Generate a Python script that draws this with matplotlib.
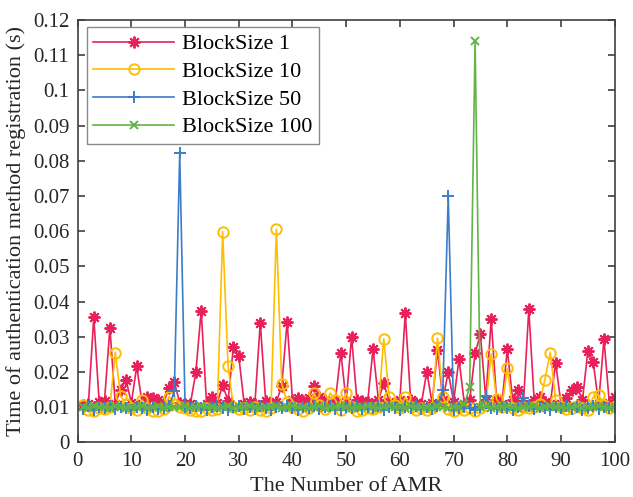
import numpy as np
import matplotlib
matplotlib.use('Agg')
import matplotlib.pyplot as plt
from matplotlib.ticker import MultipleLocator

# --- Registration times per AMR (seconds) ---
amr_ids = list(range(1, 101))

block_1 = [
    0.0105, 0.0110, 0.0355, 0.0115, 0.0118, 0.0325, 0.0110, 0.0149, 0.0178, 0.0112,
    0.0216, 0.0110, 0.0130, 0.0125, 0.0120, 0.0112, 0.0154, 0.0171, 0.0112, 0.0108,
    0.0110, 0.0199, 0.0374, 0.0110, 0.0130, 0.0112, 0.0162, 0.0118, 0.0272, 0.0244,
    0.0110, 0.0115, 0.0110, 0.0340, 0.0118, 0.0112, 0.0115, 0.0160, 0.0343, 0.0120,
    0.0125, 0.0118, 0.0125, 0.0160, 0.0130, 0.0120, 0.0112, 0.0120, 0.0255, 0.0115,
    0.0300, 0.0120, 0.0118, 0.0115, 0.0265, 0.0120, 0.0168, 0.0115, 0.0110, 0.0120,
    0.0367, 0.0120, 0.0112, 0.0110, 0.0200, 0.0112, 0.0262, 0.0120, 0.0200, 0.0115,
    0.0236, 0.0110, 0.0120, 0.0253, 0.0307, 0.0120, 0.0350, 0.0120, 0.0110, 0.0264,
    0.0120, 0.0148, 0.0110, 0.0378, 0.0120, 0.0130, 0.0115, 0.0110, 0.0225, 0.0110,
    0.0126, 0.0148, 0.0157, 0.0120, 0.0260, 0.0228, 0.0110, 0.0293, 0.0112, 0.0128,
]

block_10 = [
    0.0105, 0.0092, 0.0090, 0.0098, 0.0094, 0.0100, 0.0255, 0.0131, 0.0110, 0.0096,
    0.0092, 0.0120, 0.0098, 0.0090, 0.0088, 0.0094, 0.0130, 0.0110, 0.0100, 0.0097,
    0.0092, 0.0088, 0.0090, 0.0096, 0.0092, 0.0095, 0.0598, 0.0217, 0.0100, 0.0094,
    0.0098, 0.0093, 0.0100, 0.0092, 0.0090, 0.0098, 0.0605, 0.0166, 0.0115, 0.0100,
    0.0095, 0.0090, 0.0098, 0.0140, 0.0105, 0.0095, 0.0140, 0.0120, 0.0092, 0.0140,
    0.0100, 0.0088, 0.0092, 0.0098, 0.0094, 0.0100, 0.0294, 0.0130, 0.0105, 0.0096,
    0.0128, 0.0100, 0.0093, 0.0098, 0.0092, 0.0096, 0.0296, 0.0130, 0.0095, 0.0088,
    0.0100, 0.0092, 0.0098, 0.0090, 0.0096, 0.0105, 0.0252, 0.0122, 0.0100, 0.0210,
    0.0098, 0.0092, 0.0100, 0.0096, 0.0100, 0.0110, 0.0178, 0.0255, 0.0120, 0.0100,
    0.0094, 0.0098, 0.0102, 0.0096, 0.0092, 0.0128, 0.0135, 0.0105, 0.0098, 0.0100,
]

block_50 = [
    0.0095, 0.0102, 0.0092, 0.0100, 0.0096, 0.0103, 0.0094, 0.0100, 0.0097, 0.0093,
    0.0101, 0.0096, 0.0092, 0.0100, 0.0095, 0.0098, 0.0102, 0.0145, 0.0822, 0.0100,
    0.0096, 0.0103, 0.0098, 0.0093, 0.0100, 0.0104, 0.0096, 0.0092, 0.0099, 0.0103,
    0.0095, 0.0100, 0.0094, 0.0102, 0.0097, 0.0093, 0.0100, 0.0096, 0.0103, 0.0098,
    0.0092, 0.0100, 0.0096, 0.0102, 0.0094, 0.0099, 0.0103, 0.0095, 0.0092, 0.0100,
    0.0097, 0.0102, 0.0094, 0.0099, 0.0096, 0.0103, 0.0093, 0.0100, 0.0097, 0.0092,
    0.0101, 0.0096, 0.0103, 0.0094, 0.0099, 0.0095, 0.0102, 0.0149, 0.0700, 0.0092,
    0.0096, 0.0100, 0.0097, 0.0093, 0.0101, 0.0132, 0.0098, 0.0094, 0.0100, 0.0096,
    0.0092, 0.0099, 0.0127, 0.0103, 0.0095, 0.0100, 0.0097, 0.0093, 0.0101, 0.0096,
    0.0103, 0.0095, 0.0100, 0.0092, 0.0098, 0.0102, 0.0095, 0.0100, 0.0096, 0.0099,
]

block_100 = [
    0.0100, 0.0098, 0.0102, 0.0099, 0.0101, 0.0097, 0.0103, 0.0100, 0.0098, 0.0101,
    0.0099, 0.0102, 0.0097, 0.0100, 0.0103, 0.0098, 0.0101, 0.0099, 0.0100, 0.0102,
    0.0098, 0.0100, 0.0103, 0.0099, 0.0101, 0.0097, 0.0100, 0.0102, 0.0098, 0.0101,
    0.0099, 0.0103, 0.0100, 0.0097, 0.0101, 0.0099, 0.0102, 0.0098, 0.0100, 0.0103,
    0.0099, 0.0101, 0.0098, 0.0100, 0.0102, 0.0097, 0.0101, 0.0099, 0.0103, 0.0100,
    0.0098, 0.0101, 0.0099, 0.0102, 0.0100, 0.0097, 0.0101, 0.0103, 0.0099, 0.0100,
    0.0098, 0.0102, 0.0100, 0.0099, 0.0101, 0.0097, 0.0103, 0.0100, 0.0098, 0.0101,
    0.0099, 0.0108, 0.0156, 0.1140, 0.0100, 0.0102, 0.0098, 0.0101, 0.0099, 0.0103,
    0.0100, 0.0097, 0.0101, 0.0099, 0.0102, 0.0098, 0.0100, 0.0103, 0.0099, 0.0101,
    0.0097, 0.0100, 0.0102, 0.0098, 0.0101, 0.0099, 0.0103, 0.0100, 0.0098, 0.0101,
]

series = [
    ('BlockSize 1', block_1, '#E8215A', (8, 2, 0), 8.5),
    ('BlockSize 10', block_10, '#FFBE00', 'o', 7.5),
    ('BlockSize 50', block_50, '#3D7DC8', '+', 8.5),
    ('BlockSize 100', block_100, '#62B447', 'x', 5.5),
]

plt.rcParams['font.family'] = ['Liberation Serif', 'DejaVu Serif']

fig = plt.figure(figsize=(6.33, 4.97), dpi=100)
ax = fig.add_axes([0.1227, 0.1101, 0.8484, 0.8497])

for label, vals, color, marker, ms in series:
    ax.plot(amr_ids, vals, color=color, marker=marker, markersize=ms,
            markerfacecolor='none', markeredgecolor=color, markeredgewidth=1.4,
            linewidth=1.2, label=label)

ax.set_xlim(0, 100)
ax.set_ylim(0, 0.12)
ax.xaxis.set_major_locator(MultipleLocator(10))
ax.yaxis.set_major_locator(MultipleLocator(0.01))
# 0, 0.01, ..., 0.1, 0.11 -- no trailing zeros
ax.yaxis.set_major_formatter(plt.FuncFormatter(lambda v, p: f'{v:.2f}'.rstrip('0').rstrip('.') if v else '0'))

spine_col = '#404040'
for s in ax.spines.values():
    s.set_color(spine_col)
    s.set_linewidth(1.2)
ax.tick_params(direction='in', length=5, width=1.2, color=spine_col,
               top=True, right=True, labelsize=15, labelcolor='#262626')
ax.tick_params(axis='x', pad=7)
ax.tick_params(axis='y', pad=6)

ax.set_xlabel('The Number of AMR', fontsize=16, color='#262626', labelpad=4)
ax.set_ylabel('Time of authentication method registration (s)', fontsize=16,
              color='#262626', labelpad=5)

leg = ax.legend(loc='upper left', bbox_to_anchor=(0.0168, 0.983), borderaxespad=0,
                fontsize=16, handlelength=3.65, handletextpad=0.35, labelspacing=0.32,
                borderpad=0.3, fancybox=False, framealpha=1, numpoints=1)
leg.get_frame().set_edgecolor('#8a8a8a')
leg.get_frame().set_linewidth(1.0)

fig.savefig('out.png', dpi=100)
